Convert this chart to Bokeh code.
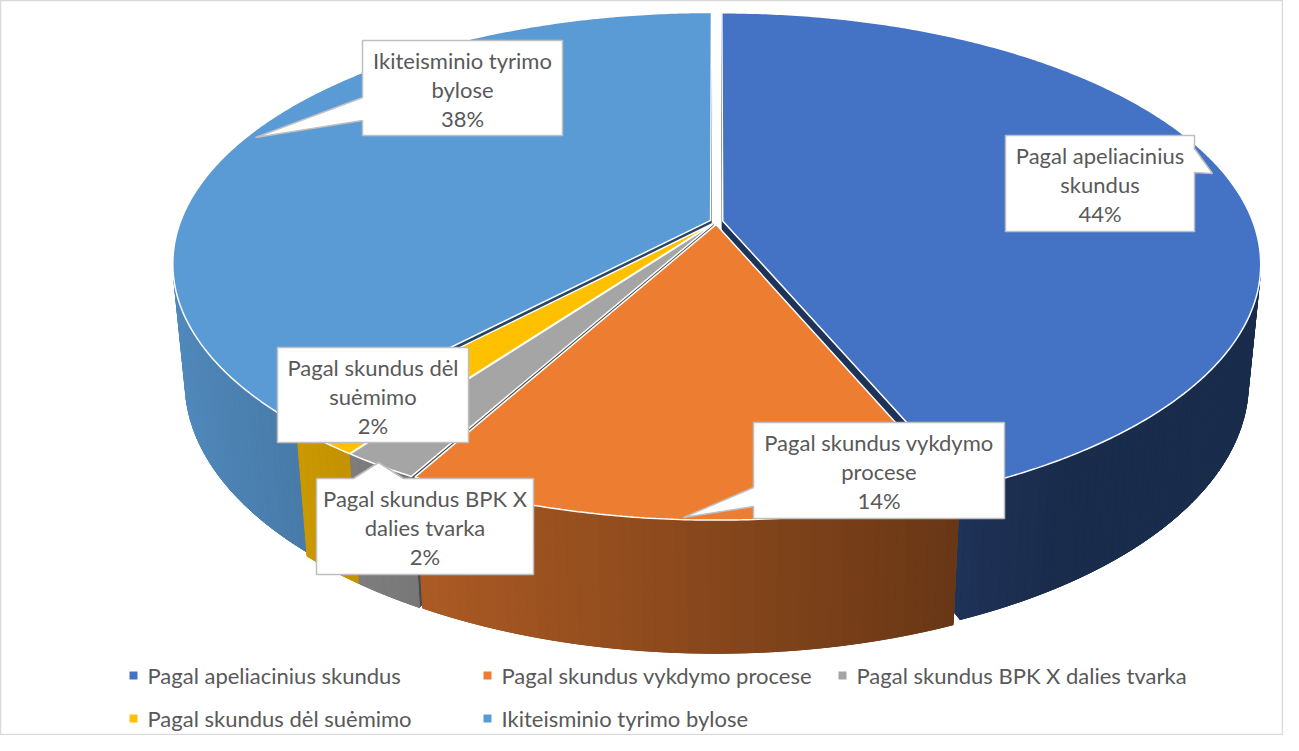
import numpy as np
from bokeh.plotting import figure
from bokeh.models import Range1d
from bokeh.core.properties import value
from bokeh.embed import file_html
from bokeh.resources import INLINE

# ---------------- data ----------------
categories = ["Pagal apeliacinius skundus", "Pagal skundus vykdymo procese",
              "Pagal skundus BPK X dalies tvarka", "Pagal skundus dėl suėmimo",
              "Ikiteisminio tyrimo bylose"]
shares = [43.7, 14.3, 2, 2, 38]
colors = ["#4472C4", "#ED7D31", "#A5A5A5", "#FFC000", "#5B9BD5"]
label_names = [["Pagal apeliacinius", "skundus"], ["Pagal skundus vykdymo", "procese"],
               ["Pagal skundus BPK X", "dalies tvarka"], ["Pagal skundus dėl", "suėmimo"],
               ["Ikiteisminio tyrimo", "bylose"]]

# ---------------- layout / style ----------------
W, H = 1283, 735
FONT = "Lato"
FSIZE = "22px"
TXT = "#595959"
PHI = np.radians(27.4)
S, C = np.sin(PHI), np.cos(PHI)
DIST = 5.186
FOC = 2749.0
CX, CY = 716.0, 221.0
THICK = 0.2546
EXPL = 0.012

cam = np.array([0.0, DIST * S, -DIST * C])
fwd = np.array([0.0, -S, C])
upv = np.array([0.0, C, S])


def proj(X, Y, Z):
    X = np.asarray(X, float); Y = np.asarray(Y, float); Z = np.asarray(Z, float)
    rx, ry, rz = X - cam[0], Y - cam[1], Z - cam[2]
    depth = ry * fwd[1] + rz * fwd[2]
    upc = ry * upv[1] + rz * upv[2]
    return CX + FOC * rx / depth, CY - FOC * upc / depth, depth


def hex2rgb(h):
    h = h.lstrip("#")
    return np.array([int(h[i:i + 2], 16) for i in (0, 2, 4)], float)


def shade(h, f):
    r = np.clip(hex2rgb(h) * f, 0, 255).astype(int)
    return "#%02x%02x%02x" % tuple(r)


def wall_factor(t):
    return max(0.39, 0.57 - 0.33 * np.sin(t))


p = figure(width=W, height=H, output_backend="svg", toolbar_location=None,
           x_range=Range1d(0, W), y_range=Range1d(H, 0),
           min_border=0, background_fill_color="white", border_fill_color="white",
           outline_line_color="#D9D9D9", outline_line_width=1.5)
p.axis.visible = False
p.grid.visible = False

total = float(sum(shares))
bounds = np.concatenate([[0], np.cumsum(shares)]) / total * 2 * np.pi

items = []          # (depth, xs, ys, color) for side pieces
top_xs, top_ys, top_col = [], [], []

for i, (a0, a1) in enumerate(zip(bounds[:-1], bounds[1:])):
    mid = (a0 + a1) / 2
    ox, oz = EXPL * np.sin(mid), EXPL * np.cos(mid)
    col = colors[i]
    n = max(2, int(np.degrees(a1 - a0) / 1.0))
    th = np.linspace(a0, a1, n + 1)
    strips = []
    for ta, tb in zip(th[:-1], th[1:]):
        tm = (ta + tb) / 2
        nx, nz = np.sin(tm), np.cos(tm)
        px, pz = ox + nx, oz + nz
        vis = nx * (cam[0] - px) + nz * (cam[2] - pz)
        if vis <= 0:
            continue
        strips.append((ta, tb, tm))
    if strips:
        tt = np.linspace(strips[0][0], strips[-1][1], 4 * len(strips) + 2)
        X = np.concatenate([ox + np.sin(tt), (ox + np.sin(tt))[::-1]])
        Z = np.concatenate([oz + np.cos(tt), (oz + np.cos(tt))[::-1]])
        Y = np.concatenate([np.zeros_like(tt), -THICK * np.ones_like(tt)])
        sx, sy, d = proj(X, Y, Z)
        fm = np.mean([wall_factor(s_[2]) for s_ in strips])
        items.append((float(np.mean(d)) + 0.5, list(sx), list(sy), shade(col, fm)))
        for ta, tb, tm in strips:
            X = [ox + np.sin(ta), ox + np.sin(tb), ox + np.sin(tb), ox + np.sin(ta)]
            Z = [oz + np.cos(ta), oz + np.cos(tb), oz + np.cos(tb), oz + np.cos(ta)]
            Y = [0, 0, -THICK, -THICK]
            sx, sy, d = proj(X, Y, Z)
            items.append((float(np.mean(d)), list(sx), list(sy), shade(col, wall_factor(tm))))
    for t, sgn in ((a0, -1), (a1, 1)):
        if sgn < 0:
            nx, nz = -np.cos(t), np.sin(t)
        else:
            nx, nz = np.cos(t), -np.sin(t)
        px, pz = ox + 0.5 * np.sin(t), oz + 0.5 * np.cos(t)
        vis = nx * (cam[0] - px) + nz * (cam[2] - pz)
        if vis <= 0:
            continue
        X = [ox, ox + np.sin(t), ox + np.sin(t), ox]
        Z = [oz, oz + np.cos(t), oz + np.cos(t), oz]
        Y = [0, 0, -THICK, -THICK]
        sx, sy, d = proj(X, Y, Z)
        items.append((float(np.mean(d)) + 1.0, list(sx), list(sy), shade(col, 0.45)))
    tt = np.linspace(a0, a1, max(3, int(np.degrees(a1 - a0) * 2)))
    X = np.concatenate([[ox], ox + np.sin(tt)])
    Z = np.concatenate([[oz], oz + np.cos(tt)])
    sx, sy, _ = proj(X, np.zeros_like(X), Z)
    top_xs.append(list(sx)); top_ys.append(list(sy)); top_col.append(col)

items.sort(key=lambda it: -it[0])
p.patches([it[1] for it in items], [it[2] for it in items],
          fill_color=[it[3] for it in items], line_color=[it[3] for it in items],
          line_width=1.0)
p.patches(top_xs, top_ys, fill_color=top_col, line_color="white", line_width=1.5)

# ---------------- data labels (callouts) ----------------
label_boxes = [
    ((1005, 135, 1194, 231), ("right", (1194, 148), (1212, 173), (1194, 172))),
    ((753, 422, 1004, 518), ("left", (753, 487), (683, 517), (753, 506))),
    ((316, 478, 533, 574), ("top", (353, 478), (378, 462), (403, 478))),
    ((277, 347, 468, 442), None),
    ((362, 40, 562, 135), ("left", (362, 97), (255, 137), (362, 120))),
]


def callout(box, ptr):
    x0, y0, x1, y1 = box
    pts = [(x0, y0)]
    if ptr and ptr[0] == "top":
        pts += [ptr[1], ptr[2], ptr[3]]
    pts.append((x1, y0))
    if ptr and ptr[0] == "right":
        pts += [ptr[1], ptr[2], ptr[3]]
    pts.append((x1, y1))
    if ptr and ptr[0] == "bottom":
        pts += [ptr[3], ptr[2], ptr[1]]
    pts.append((x0, y1))
    if ptr and ptr[0] == "left":
        pts += [ptr[3], ptr[2], ptr[1]]
    return [q[0] for q in pts], [q[1] for q in pts]


cx_list, cy_list = [], []
tx, ty, tt_ = [], [], []
for i, (box, ptr) in enumerate(label_boxes):
    xs, ys = callout(box, ptr)
    cx_list.append(xs); cy_list.append(ys)
    pct = "%d%%" % int(np.floor(shares[i] / total * 100 + 0.5))
    lines = label_names[i] + [pct]
    xc = (box[0] + box[2]) / 2
    yc = (box[1] + box[3]) / 2
    for j, ln in enumerate(lines):
        tx.append(xc); ty.append(yc + (j - 1) * 29 + 1); tt_.append(ln)

p.patches(cx_list, cy_list, fill_color="white", line_color="#BFBFBF", line_width=1.5)
p.text(tx, ty, text=tt_, text_align="center", text_baseline="middle",
       text_font=value(FONT), text_font_size=FSIZE, text_color=TXT)

# ---------------- legend ----------------
leg_x = [133, 487, 842, 133, 487]
leg_y = [675, 675, 675, 718, 718]
p.scatter(leg_x, leg_y, marker="square", size=8, fill_color=colors, line_color=None)
p.text([x + 14 for x in leg_x], leg_y, text=categories, text_align="left",
       text_baseline="middle", text_font=value(FONT), text_font_size=FSIZE,
       text_color=TXT)

open("out.html", "w").write(file_html(p, INLINE))
